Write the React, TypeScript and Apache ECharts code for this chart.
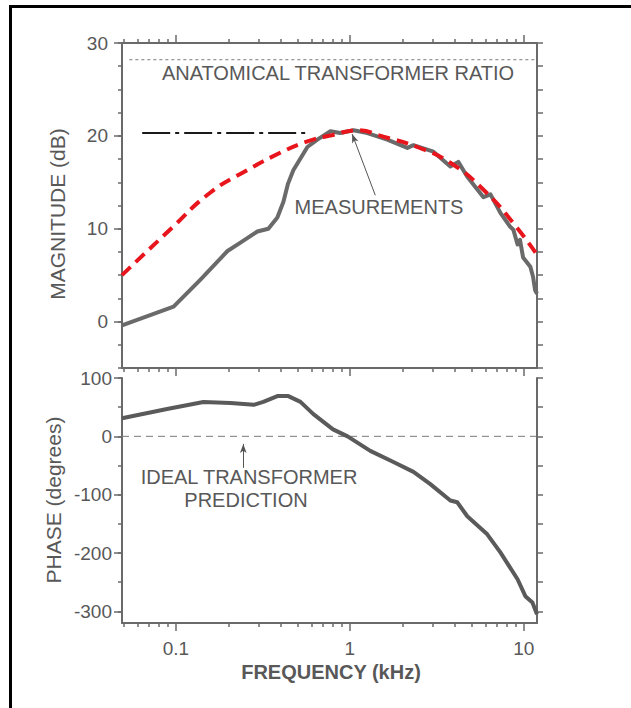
import React, { useEffect, useRef } from "react";
import * as echarts from "echarts";

// ---- data ----
const X_MIN = 0.049;
const X_MAX = 11.9;

const magFreq = [0.049, 0.097, 0.138, 0.198, 0.235, 0.294, 0.34, 0.383, 0.415, 0.44, 0.473, 0.57, 0.65, 0.773, 0.88, 1.05, 1.26, 1.64, 2.14, 2.32, 3.02, 3.78, 4.2, 4.73, 5.86, 6.43, 7.33, 8.35, 8.7, 9.2, 9.5, 9.9, 10.9, 11.3, 11.6, 11.9];
const magDb = [-0.4, 1.6, 4.5, 7.6, 8.5, 9.7, 10.0, 11.2, 12.9, 14.8, 16.3, 18.8, 19.6, 20.5, 20.3, 20.6, 20.3, 19.6, 18.7, 19.0, 18.3, 16.7, 17.2, 15.6, 13.4, 13.7, 11.7, 10.2, 9.9, 8.3, 8.8, 6.9, 5.9, 4.8, 3.4, 3.0];

const modelFreq = [0.049, 0.095, 0.158, 0.257, 0.4, 0.57, 0.8, 1.1, 1.56, 2.44, 3.78, 5.86, 8.7, 11.9];
const modelDb = [5.0, 10.1, 13.9, 16.3, 18.2, 19.4, 20.1, 20.6, 19.9, 18.8, 17.1, 14.2, 10.6, 7.2];

const phaseFreq = [0.049, 0.089, 0.144, 0.206, 0.28, 0.318, 0.383, 0.443, 0.52, 0.617, 0.8, 0.97, 1.31, 1.78, 2.32, 2.9, 3.78, 4.14, 4.73, 6.16, 7.33, 9.2, 10.2, 11.2, 11.9];
const phaseDeg = [31, 47, 59, 57, 54, 59, 69, 69, 59, 38, 12, 0, -25, -44, -61, -82, -110, -113, -137, -168, -199, -245, -274, -285, -305];

const anatomicalFreq = [0.054, 11.6];
const anatomicalDb = [28.2, 28.2];
const flatFreq = [0.064, 0.555];
const flatDb = [20.3, 20.3];
const idealFreq = [X_MIN, X_MAX];
const idealDeg = [0, 0];

const xMajorTicks = [0.1, 1, 10];
const xMinorTicks = [0.05, 0.06, 0.07, 0.08, 0.09, 0.2, 0.3, 0.4, 0.5, 0.6, 0.7, 0.8, 0.9, 2, 3, 4, 5, 6, 7, 8, 9];
const xLabels = [0.1, 1, 10];
const magMajor = [0, 10, 20, 30];
const magMinor = [-5, -2.5, 0, 2.5, 5, 7.5, 10, 12.5, 15, 17.5, 20, 22.5, 25, 27.5, 30];
const phaseMajor = [100, 0, -100, -200, -300];
const phaseMinor = [100, 50, 0, -50, -100, -150, -200, -250, -300];

const zip = (a: number[], b: number[]) => a.map((v, i) => [v, b[i]]);

const FONT = '"Liberation Sans", Arial, Helvetica, sans-serif';
const AX = "#6a6a6a";
const TXT = "#585858";

export default function App() {
  const ref = useRef<HTMLDivElement>(null);
  useEffect(() => {
    if (!ref.current) return;
    const chart = echarts.init(ref.current, undefined, { renderer: "svg" });

    const xAx = (grid: number, pos: string, ticks: number[], len: number, line: boolean, labels: boolean) => ({
      type: "log",
      gridIndex: grid,
      position: pos,
      min: X_MIN,
      max: X_MAX,
      logBase: 10,
      axisLine: { show: line, onZero: false, lineStyle: { color: AX, width: 2 } },
      axisTick: { show: true, customValues: ticks, length: len, inside: false, lineStyle: { color: AX, width: 1.5 } },
      axisLabel: labels
        ? {
            show: true,
            customValues: xLabels,
            margin: 16,
            color: TXT,
            fontSize: 19,
            fontFamily: FONT,
            formatter: (v: number) => String(Math.round(v * 1000) / 1000),
          }
        : { show: false },
      splitLine: { show: false },
      minorTick: { show: false },
    });

    const yAx = (grid: number, pos: string, min: number, max: number, ticks: number[], len: number, line: boolean, labels: number[] | null, margin = 12) => ({
      type: "value",
      gridIndex: grid,
      position: pos,
      min,
      max,
      axisLine: { show: line, onZero: false, lineStyle: { color: AX, width: 2 } },
      axisTick: { show: true, customValues: ticks, length: len, inside: false, lineStyle: { color: AX, width: 1.5 } },
      axisLabel: labels
        ? { show: true, customValues: labels, margin, color: TXT, fontSize: 19, fontFamily: FONT }
        : { show: false },
      splitLine: { show: false },
    });

    chart.setOption({
      animation: false,
      backgroundColor: "#ffffff",
      grid: [
        { left: 122, top: 43, width: 415, height: 325 },
        { left: 122, top: 378, width: 415, height: 245 },
      ],
      xAxis: [
        xAx(0, "bottom", xMajorTicks, 8, true, false),
        xAx(0, "bottom", xMinorTicks, 4, false, false),
        xAx(0, "top", xMajorTicks, 8, true, false),
        xAx(0, "top", xMinorTicks, 4, false, false),
        xAx(1, "bottom", xMajorTicks, 8, true, true),
        xAx(1, "bottom", xMinorTicks, 4, false, false),
      ],
      yAxis: [
        yAx(0, "left", -5, 30, magMajor, 8, true, magMajor, 14),
        yAx(0, "left", -5, 30, magMinor, 4, false, null),
        yAx(0, "right", -5, 30, magMinor, 6, true, null),
        yAx(1, "left", -320, 100, phaseMajor, 8, true, phaseMajor, 10),
        yAx(1, "left", -320, 100, phaseMinor, 4, false, null),
        yAx(1, "right", -320, 100, phaseMinor, 6, true, null),
      ],
      series: [
        {
          type: "line",
          name: "anatomical",
          xAxisIndex: 0,
          yAxisIndex: 0,
          data: zip(anatomicalFreq, anatomicalDb),
          showSymbol: false,
          silent: true,
          lineStyle: { color: "#7a7a7a", width: 1, type: [3, 3] },
          z: 2,
        },
        {
          type: "line",
          name: "flat",
          xAxisIndex: 0,
          yAxisIndex: 0,
          data: zip(flatFreq, flatDb),
          showSymbol: false,
          silent: true,
          lineStyle: { color: "#1a1a1a", width: 2, type: [28, 5, 4, 5] },
          z: 2,
        },
        {
          type: "line",
          name: "measurement",
          xAxisIndex: 0,
          yAxisIndex: 0,
          data: zip(magFreq, magDb),
          showSymbol: false,
          silent: true,
          lineStyle: { color: "#6a6a6a", width: 4, join: "round" },
          z: 3,
          markLine: {
            silent: true,
            symbol: ["none", "arrow"],
            symbolSize: [5, 9],
            label: { show: false },
            lineStyle: { color: "#555", width: 1, type: "solid" },
            data: [[{ coord: [1.4, 13.6] }, { coord: [1.03, 20.2] }]],
          },
        },
        {
          type: "line",
          name: "model",
          xAxisIndex: 0,
          yAxisIndex: 0,
          data: zip(modelFreq, modelDb),
          showSymbol: false,
          smooth: true,
          silent: true,
          lineStyle: { color: "#e8161c", width: 4, type: [12, 7] },
          z: 4,
        },
        {
          type: "line",
          name: "ideal",
          xAxisIndex: 4,
          yAxisIndex: 3,
          data: zip(idealFreq, idealDeg),
          showSymbol: false,
          silent: true,
          lineStyle: { color: "#7a7a7a", width: 1, type: [7, 5] },
          z: 2,
          markLine: {
            silent: true,
            symbol: ["none", "arrow"],
            symbolSize: [5, 9],
            label: { show: false },
            lineStyle: { color: "#555", width: 1, type: "solid" },
            data: [[{ coord: [0.244, -54] }, { coord: [0.244, -13] }]],
          },
        },
        {
          type: "line",
          name: "phase",
          xAxisIndex: 4,
          yAxisIndex: 3,
          data: zip(phaseFreq, phaseDeg),
          showSymbol: false,
          silent: true,
          lineStyle: { color: "#5a5a5a", width: 4, join: "round" },
          z: 3,
        },
      ],
      graphic: [
        { type: "line", shape: { x1: 9, y1: 6.5, x2: 631, y2: 6.5 }, style: { stroke: "#000", lineWidth: 3 } },
        { type: "line", shape: { x1: 10.5, y1: 5, x2: 10.5, y2: 708 }, style: { stroke: "#000", lineWidth: 3 } },
        {
          type: "text",
          x: 338,
          y: 73,
          style: { text: "ANATOMICAL TRANSFORMER RATIO", fill: TXT, font: `20px ${FONT}`, textAlign: "center", textVerticalAlign: "middle" },
        },
        {
          type: "text",
          x: 379,
          y: 207,
          style: { text: "MEASUREMENTS", fill: TXT, font: `20px ${FONT}`, textAlign: "center", textVerticalAlign: "middle" },
        },
        {
          type: "text",
          x: 249,
          y: 477,
          style: { text: "IDEAL TRANSFORMER", fill: TXT, font: `20px ${FONT}`, textAlign: "center", textVerticalAlign: "middle" },
        },
        {
          type: "text",
          x: 246,
          y: 500,
          style: { text: "PREDICTION", fill: TXT, font: `20px ${FONT}`, textAlign: "center", textVerticalAlign: "middle" },
        },
        {
          type: "text",
          x: 57,
          y: 214,
          rotation: Math.PI / 2,
          style: { text: "MAGNITUDE (dB)", fill: TXT, font: `21px ${FONT}`, textAlign: "center", textVerticalAlign: "middle" },
        },
        {
          type: "text",
          x: 53,
          y: 500,
          rotation: Math.PI / 2,
          style: { text: "PHASE (degrees)", fill: TXT, font: `21px ${FONT}`, textAlign: "center", textVerticalAlign: "middle" },
        },
        {
          type: "text",
          x: 331,
          y: 672,
          style: { text: "FREQUENCY (kHz)", fill: TXT, font: `bold 20px ${FONT}`, textAlign: "center", textVerticalAlign: "middle" },
        },
      ],
    });
    return () => chart.dispose();
  }, []);
  return <div ref={ref} style={{ position: "fixed", left: 0, top: 0, width: 631, height: 708, background: "#fff" }} />;
}
